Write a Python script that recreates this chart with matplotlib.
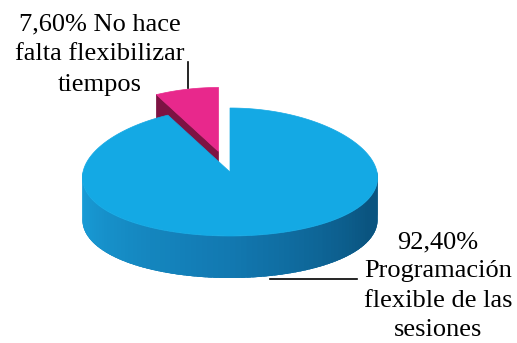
import matplotlib
matplotlib.use('Agg')
import matplotlib.pyplot as plt
import numpy as np
from matplotlib.patches import Polygon


# Survey answers (percent)
labels = ['Programación\nflexible de las\nsesiones', 'No hace\nfalta flexibilizar\ntiempos']
values = [92.4, 7.6]
explode = [0.0, 0.33]
top_colors = ['#14a9e4', '#e8288c']
wall_colors = ['#1a9ed6', '#7d1343']

# Pie geometry, in pixel units of the canvas
CX, CY = 230, 172
RX, RY = 147, 64
DEPTH = 42
PERSP = 0.09


def pt(ang, off=(0, 0), drop=0):
    a = np.radians(ang)
    y = -RY * np.sin(a)
    scale = 1 + PERSP * (y / RY)
    x = RX * np.cos(a) * scale
    return (CX + off[0] + x, CY + off[1] + y + drop)


def arc(a0, a1, off=(0, 0), drop=0, n=120):
    return [pt(a, off=off, drop=drop) for a in np.linspace(a0, a1, n)]


fig = plt.figure(figsize=(5.17, 3.43), dpi=100)
ax = fig.add_axes([0, 0, 1, 1])
ax.set_xlim(0, 517)
ax.set_ylim(343, 0)
ax.axis('off')

# slice angles: start at 12 o'clock, clockwise
spans = [v / sum(values) * 360 for v in values]
starts = []
cur = 90
for s in spans:
    starts.append((cur - s, cur))
    cur -= s

# small slice (drawn first, sits behind)
a0, a1 = starts[1]
a0, a1 = a0 + 360, a1 + 360
mid = (a0 + a1) / 2
off = (explode[1] * RX * np.cos(np.radians(mid)), -explode[1] * RY * np.sin(np.radians(mid)))
c_top = (CX + off[0], CY + off[1])
c_bot = (c_top[0], c_top[1] + DEPTH)
face = [c_top, pt(a1, off=off), pt(a1, off=off, drop=DEPTH), c_bot]
ax.add_patch(Polygon(face, closed=True, fc=wall_colors[1], ec=wall_colors[1], lw=0.5))
ax.add_patch(Polygon([c_top] + arc(a0, a1, off=off), closed=True,
                     fc=top_colors[1], ec=top_colors[1], lw=0.5))

# big slice: front wall, shaded from left to right
b0, b1 = starts[0]
wall_a = np.linspace(180, 360, 91)
light = np.array([0.10, 0.63, 0.86])
mid_c = np.array([0.07, 0.47, 0.69])
dark = np.array([0.04, 0.33, 0.50])
ax.add_patch(Polygon(arc(180, 360) + arc(360, 180, drop=DEPTH), closed=True,
                     fc=mid_c, ec='none'))
for i in range(len(wall_a) - 1):
    w0, w1 = wall_a[i], min(wall_a[i + 1] + 1.5, 360)
    t = (w0 - 180) / 180
    if t < 0.5:
        col = light + (mid_c - light) * (t / 0.5)
    else:
        col = mid_c + (dark - mid_c) * min(1, (t - 0.5) / 0.35)
    quad = arc(w0, w1, n=4) + arc(w1, w0, drop=DEPTH, n=4)
    ax.add_patch(Polygon(quad, closed=True, fc=col, ec='none'))

ax.add_patch(Polygon([(CX, CY)] + arc(b0 + 360, b1 + 360, n=400),
                     closed=True, fc=top_colors[0], ec=top_colors[0], lw=0.5))

# labels
pct = [f'{v:.2f}%'.replace('.', ',') for v in values]
font = dict(family='Liberation Serif', fontsize=19, color='black')
ax.text(100, 13, pct[1] + ' ' + labels[1], ha='center', va='top',
        multialignment='center', linespacing=1.5, **font)
ax.text(438, 231, pct[0] + '\n' + labels[0], ha='center', va='top',
        multialignment='center', linespacing=1.44, **font)

# leader lines
ax.plot([188, 188], [62, 88], color='black', lw=1.2)
ax.plot([270, 357], [279, 279], color='black', lw=1.2)

fig.savefig('out.png', dpi=100)
